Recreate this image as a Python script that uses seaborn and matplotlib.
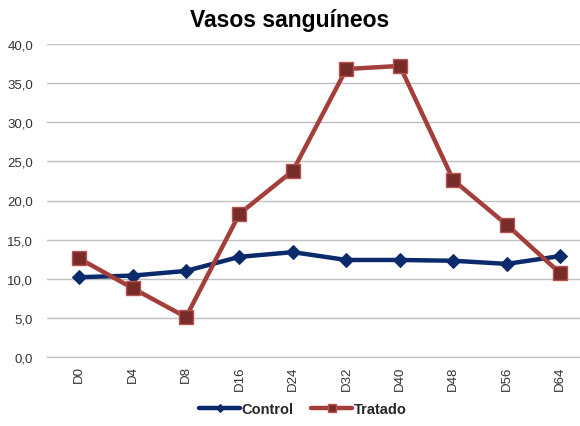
import numpy as np
import pandas as pd
import matplotlib
matplotlib.use("Agg")
import matplotlib.pyplot as plt
import seaborn as sns
from matplotlib.ticker import FuncFormatter

# Data
days = ['D0', 'D4', 'D8', 'D16', 'D24', 'D32', 'D40', 'D48', 'D56', 'D64']
control = [10.2, 10.4, 11.0, 12.8, 13.4, 12.4, 12.4, 12.3, 11.9, 12.9]
tratado = [12.6, 8.8, 5.1, 18.3, 23.8, 36.8, 37.2, 22.6, 16.9, 10.7]

df = pd.DataFrame({'day': days * 2,
                   'value': control + tratado,
                   'serie': ['Control'] * len(days) + ['Tratado'] * len(days)})
df['x'] = list(range(len(days))) * 2

sns.set_style("white")
plt.rcParams['font.family'] = ['Liberation Sans', 'DejaVu Sans']

fig = plt.figure(figsize=(5.8, 4.27), dpi=100)
ax = fig.add_axes([47 / 580, 1 - 358 / 427, 1 - 47 / 580, (358 - 45) / 427])

colors = {'Control': '#0A2A6B', 'Tratado': '#A43E3A'}
sns.lineplot(data=df[df.serie == 'Control'], x='x', y='value', ax=ax,
             color=colors['Control'], lw=3.2, marker='D', markersize=7,
             markerfacecolor='#0A2A6B', markeredgecolor='#0A2A6B', label='Control')
sns.lineplot(data=df[df.serie == 'Tratado'], x='x', y='value', ax=ax,
             color=colors['Tratado'], lw=3.2, marker='s', markersize=10,
             markerfacecolor='#772C2A', markeredgecolor='#B5524E', markeredgewidth=1,
             label='Tratado')

ax.set_ylim(0, 40)
ax.set_yticks(np.arange(0, 41, 5))
ax.yaxis.set_major_formatter(FuncFormatter(lambda v, p: f"{v:.1f}".replace('.', ',')))
ax.set_xlim(-0.6, len(days) - 1 + 0.37)
ax.set_xticks(range(len(days)))
ax.set_xticklabels(days, rotation=90)
ax.tick_params(axis='both', length=0, labelsize=9.5, colors='#333333')
ax.tick_params(axis='x', pad=6)
ax.tick_params(axis='y', pad=10)
ax.grid(axis='y', color='#BFBFBF', lw=1)
ax.set_axisbelow(True)
for s in ['top', 'right', 'left']:
    ax.spines[s].set_visible(False)
ax.spines['bottom'].set_color('#BFBFBF')
ax.set_xlabel('')
ax.set_ylabel('')

fig.text(0.5, 1 - 20 / 427, 'Vasos sanguíneos', ha='center', va='center',
         fontsize=16.5, fontweight='bold', color='black')

leg = ax.legend(loc='center', bbox_to_anchor=(0.5 - 23 / 580 / 2, (358 - 410) / 313),
                ncol=2, frameon=False, handlelength=2.8, markerscale=0.6,
                columnspacing=1.2, handletextpad=0.1, prop={'weight': 'bold', 'size': 10.5})

fig.savefig('out.png', dpi=100)
